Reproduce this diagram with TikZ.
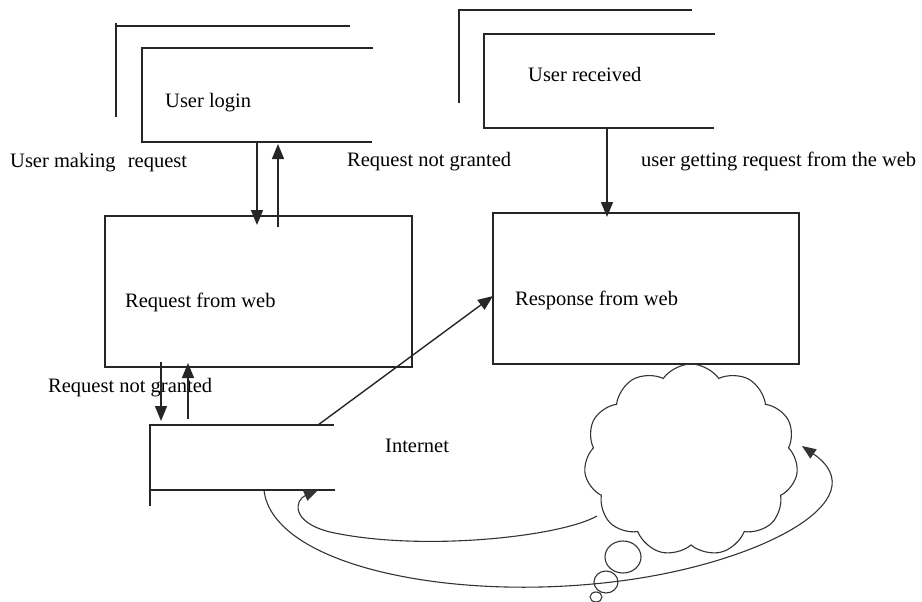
\documentclass[tikz,border=0pt]{standalone}
\usepackage{fontspec}
\setmainfont{Liberation Serif}
\usetikzlibrary{arrows.meta,shapes.symbols}
\begin{document}
\begin{tikzpicture}[x=1pt,y=-1pt,
  ln/.style={line width=1.4pt, draw=black!85},
  thin/.style={line width=1.1pt, draw=black!80},
  lbl/.style={font=\fontsize{20.5}{24}\selectfont, inner sep=0pt, anchor=base west},
  arr/.style={ln, -{Triangle[width=12pt,length=15pt]}},
  boxnode/.style={ln, rectangle, inner sep=0pt}]
\useasboundingbox (0,0) rectangle (922,602);

% ---- User login data store
\draw[ln] (116,23) -- (116,26) -- (350,26);
\draw[ln] (116,26) -- (116,117);
\draw[ln] (373,48) -- (142,48) -- (142,142) -- (372,142);
\node[lbl] (ulogin) at (165,107) {User login};
\coordinate (ulA) at (257,142);
\coordinate (ulB) at (278,144);

% ---- User received data store
\draw[ln] (459,103) -- (459,10) -- (692,10);
\draw[ln] (715,34) -- (484,34) -- (484,128) -- (714,128);
\node[lbl] (urecv) at (528,82) {User received};
\coordinate (urA) at (607,128);

% ---- process boxes
\node[boxnode, minimum width=307pt, minimum height=151pt] (req) at (258.5,291.5) {};
\node[boxnode, minimum width=306pt, minimum height=151pt] (resp) at (646,288.5) {};
\node[lbl] (reqt) at (125,307) {Request from web};
\node[lbl] (respt) at (515,305) {Response from web};

% ---- labels
\node[lbl] (lmake) at (10,167) {User making\hspace{0.6em}request};
\node[lbl] (lnot1) at (347,166) {Request not granted};
\node[lbl] (lget) at (641,166) {user getting request from the web};
\node[lbl] (lnot2) at (48,392) {Request not granted};

% ---- Internet data store
\draw[ln] (334,425) -- (150,425) -- (150,506);
\draw[ln] (150,490) -- (335,490);
\node[lbl] (inet) at (385,452) {Internet};
\coordinate (inA) at (161,421);
\coordinate (inB) at (188,419);
\coordinate (inC) at (318,425);
\coordinate (inD) at (264,490);
\coordinate (inE) at (318,490);

% ---- arrows between login and request
\coordinate (rqA) at (257,225);
\coordinate (rqB) at (278,227);
\draw[arr] (ulA) -- (rqA);
\draw[arr] (rqB) -- (ulB);
\draw[arr] (urA) -- (607,217);

% ---- arrows between request and internet
\coordinate (rqC) at (161,362);
\coordinate (rqD) at (188,363);
\draw[arr] (rqC) -- (inA);
\draw[arr] (inB) -- (rqD);

% ---- internet to response
\coordinate (rsA) at (493,296);
\draw[arr] (inC) -- (rsA);

% ---- cloud
\node[thin, cloud, cloud puffs=11, cloud puff arc=110, aspect=1.1,
      minimum width=214pt, minimum height=192pt, inner sep=0pt] (cloud) at (691,460) {};
\draw[thin] (623,557) ellipse [x radius=18pt, y radius=16pt];
\draw[thin] (606,582) ellipse [x radius=12pt, y radius=11pt];
\draw[thin] (596,597) ellipse [x radius=6pt, y radius=5pt];

% ---- loops
\coordinate (clA) at (597,516);
\coordinate (clB) at (802,446);
\draw[thin, -{Triangle[width=11pt,length=14pt]}] (clA) .. controls (560,537) and (420,552) .. (330,532)
  .. controls (290,522) and (295,500) .. (inE);
\draw[thin, -{Triangle[width=11pt,length=14pt]}] (inD) .. controls (272,565) and (450,603) .. (620,581)
  .. controls (760,563) and (880,500) .. (clB);
\end{tikzpicture}
\end{document}
